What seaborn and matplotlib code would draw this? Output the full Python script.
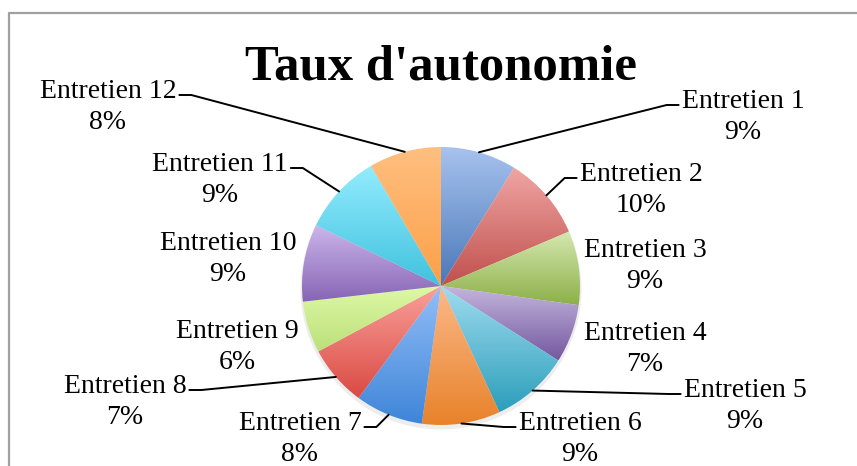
import matplotlib
matplotlib.use("Agg")
import matplotlib.pyplot as plt
import numpy as np
import seaborn as sns
from matplotlib.patches import Circle

# data
names = ["Entretien 1", "Entretien 2", "Entretien 3", "Entretien 4",
         "Entretien 5", "Entretien 6", "Entretien 7", "Entretien 8",
         "Entretien 9", "Entretien 10", "Entretien 11", "Entretien 12"]
values = [8.8, 9.8, 8.6, 6.8, 9.1, 9.1, 7.9, 7.1, 6.0, 9.0, 9.4, 8.4]

# excel-like gradient colours (top / bottom of each slice)
light = ["#A7C2EE", "#F0A6A4", "#D5E8B0", "#C5B7DD", "#A0DCF0", "#FBB98A",
         "#93BEF7", "#F9A09A", "#DEF9A6", "#CCB6EC", "#94ECFE", "#FFBF80"]
dark = ["#4A78B8", "#C0504D", "#8CB048", "#7458A0", "#2C9EBA", "#E8822A",
        "#3E85D8", "#DA4A43", "#BCE07A", "#8664B4", "#40C2DE", "#FCA048"]

# label layout, in pixels from the top left: centre x, first baseline
label_xy = [(743, 108), (641, 181), (645, 257), (645, 340), (745, 397),
            (580, 430), (300, 430), (125, 393), (237, 338), (228, 250),
            (220, 171), (108, 98)]
has_leader = [True, True, False, False, True, True,
              True, True, False, False, True, True]

W, H = 857, 466
cx, cy, R = 441, H - 286, 139

sns.set_theme(style="white")
plt.rcParams["font.family"] = ["Liberation Serif", "DejaVu Serif"]
plt.rcParams["text.color"] = "black"

fig = plt.figure(figsize=(W / 100, H / 100), dpi=100)
ax = fig.add_axes([0, 0, 1, 1])

wedges, _ = ax.pie(values, startangle=90, counterclock=False,
                   center=(cx, cy), radius=R,
                   wedgeprops=dict(linewidth=0))

ax.add_patch(Circle((cx, cy - 3), R + 1.5, color="black", alpha=0.07,
                    zorder=0, lw=0))

grad = np.linspace(0, 1, 256).reshape(-1, 1)
for w, lo, hi in zip(wedges, dark, light):
    ext = w.get_path().get_extents()
    cmap = sns.blend_palette([lo, hi], n_colors=256, as_cmap=True)
    im = ax.imshow(grad, extent=(ext.x0, ext.x1, ext.y0, ext.y1),
                   origin="lower", cmap=cmap, aspect="auto", zorder=1,
                   interpolation="bilinear")
    im.set_clip_path(w)
    w.set_facecolor("none")

total = sum(values)
texts = []
for name, v, (lx, ly) in zip(names, values, label_xy):
    t = ax.text(lx, H - ly, name, ha="center", va="baseline", fontsize=20,
                color="black")
    ax.text(lx, H - ly - 31, f"{round(100 * v / total)}%", ha="center",
            va="baseline", fontsize=20, color="black")
    texts.append(t)

ax.text(441, H - 80, "Taux d'autonomie", ha="center", va="baseline",
        fontsize=36.5, fontweight="bold", color="black")

ax.set_xlim(0, W)
ax.set_ylim(0, H)
ax.set_aspect("auto")
ax.axis("off")

# leader lines
fig.canvas.draw()
renderer = fig.canvas.get_renderer()
cum = np.cumsum([0] + values[:-1])
for t, v, c, lead, (lx, ly) in zip(texts, values, cum, has_leader, label_xy):
    if not lead:
        continue
    theta = np.deg2rad((c + v / 2) / total * 360)
    ex, ey = cx + R * np.sin(theta), cy + R * np.cos(theta)
    bb = t.get_window_extent(renderer)
    y = H - ly + 3
    if lx > cx:
        xs = [ex, bb.x0 - 15, bb.x0 - 3]
    else:
        xs = [ex, bb.x1 + 15, bb.x1 + 3]
    ax.plot(xs, [ey, y, y], color="black", lw=1.4, zorder=3)

# chart frame
ax.plot([9, 9, W], [0, H - 13, H - 13], color="#A0A0A0", lw=1.6,
        clip_on=False)

fig.savefig("out.png", dpi=100)
